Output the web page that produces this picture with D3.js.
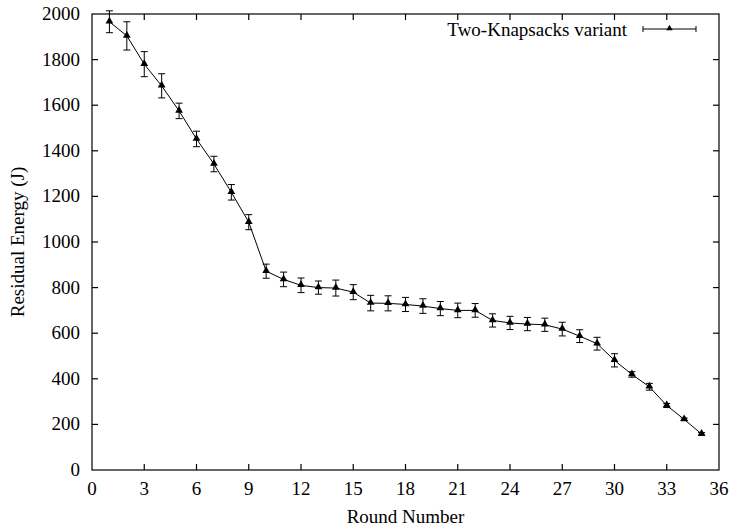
<!DOCTYPE html>
<html>
  <body>
    <script src="https://cdn.jsdelivr.net/npm/d3@7"></script>
    <style>
      body{ margin: 0; background: #fff;}
      svg text{ font-family: 'Liberation Serif', 'Times New Roman', Times, 'DejaVu Serif', serif; font-size: 19px; fill: #000;}
      .axis line, .frame{ stroke: #000; stroke-width: 1.2; fill: none;}
      .series{ fill: none; stroke: #000; stroke-width: 1;}
      .err{ stroke: #000; stroke-width: 1;}
    </style>
    <script>
var rounds = d3.range(1, 36)
var energy = [1966, 1904, 1780, 1685, 1575, 1452, 1342, 1218, 1087, 872,
  836, 810, 800, 798, 780, 732, 731, 726, 719, 708,
  700, 700, 656, 645, 640, 637, 618, 587, 554, 481,
  419, 365, 283, 222, 158]
var errors = [48, 62, 55, 53, 34, 34, 34, 34, 33, 31,
  32, 32, 29, 35, 33, 34, 33, 31, 32, 31,
  32, 30, 29, 29, 29, 29, 30, 28, 28, 29,
  12, 15, 9, 6, 6]
var xTicks = d3.range(0, 37, 3)
var yTicks = d3.range(0, 2001, 200)
var seriesName = 'Two-Knapsacks variant'

var W = 733, H = 530
var pL = 92, pR = 719, pT = 14, pB = 470
var svg = d3.select('body').append('svg').attr('width', W).attr('height', H)
  .attr('font-family', "'Liberation Serif', 'Times New Roman', serif")

var x = d3.scaleLinear().domain([0, 36]).range([pL, pR])
var y = d3.scaleLinear().domain([0, 2000]).range([pB, pT])
var tk = 6

// frame
svg.append('rect').attr('class', 'frame')
  .attr('x', pL).attr('y', pT).attr('width', pR - pL).attr('height', pB - pT)

// ticks on all four sides, gnuplot style
var ax = svg.append('g').attr('class', 'axis')
xTicks.forEach(function(t){
  if (t === 0 || t === 36) return
  ax.append('line').attr('x1', x(t)).attr('x2', x(t)).attr('y1', pB).attr('y2', pB - tk)
  ax.append('line').attr('x1', x(t)).attr('x2', x(t)).attr('y1', pT).attr('y2', pT + tk)
})
yTicks.forEach(function(t){
  if (t === 0 || t === 2000) return
  ax.append('line').attr('x1', pL).attr('x2', pL + tk).attr('y1', y(t)).attr('y2', y(t))
  ax.append('line').attr('x1', pR).attr('x2', pR - tk).attr('y1', y(t)).attr('y2', y(t))
})
svg.selectAll('.xlab').data(xTicks).enter().append('text')
  .attr('x', function(d){ return x(d) }).attr('y', 495)
  .attr('text-anchor', 'middle').text(function(d){ return d })
svg.selectAll('.ylab').data(yTicks).enter().append('text')
  .attr('x', 80).attr('y', function(d){ return y(d) + 6 })
  .attr('text-anchor', 'end').text(function(d){ return d })

svg.append('text').attr('x', (pL + pR) / 2).attr('y', 523)
  .attr('text-anchor', 'middle').text('Round Number')
svg.append('text').attr('transform', 'translate(24,' + (pT + pB) / 2 + ') rotate(-90)')
  .attr('text-anchor', 'middle').text('Residual Energy (J)')

// data
var pts = rounds.map(function(r, i){ return {r: r, v: energy[i], e: errors[i]} })
var cap = 3.5
var eb = svg.append('g').attr('class', 'err')
pts.forEach(function(d){
  var cx = x(d.r), y1 = y(d.v + d.e), y2 = y(d.v - d.e)
  eb.append('line').attr('x1', cx).attr('x2', cx).attr('y1', y1).attr('y2', y2)
  eb.append('line').attr('x1', cx - cap).attr('x2', cx + cap).attr('y1', y1).attr('y2', y1)
  eb.append('line').attr('x1', cx - cap).attr('x2', cx + cap).attr('y1', y2).attr('y2', y2)
})
svg.append('path').datum(pts).attr('class', 'series')
  .attr('d', d3.line().x(function(d){ return x(d.r) }).y(function(d){ return y(d.v) }))
var tri = d3.symbol().type(d3.symbolTriangle).size(26)
svg.selectAll('.pt').data(pts).enter().append('path')
  .attr('d', tri).attr('fill', '#000')
  .attr('transform', function(d){ return 'translate(' + x(d.r) + ',' + (y(d.v) - 0.5) + ')' })

// legend
var ly = 29
svg.append('text').attr('x', 627).attr('y', ly + 7).attr('text-anchor', 'end').text(seriesName)
var lg = svg.append('g').attr('class', 'err')
lg.append('line').attr('x1', 643).attr('x2', 696).attr('y1', ly).attr('y2', ly)
lg.append('line').attr('x1', 643).attr('x2', 643).attr('y1', ly - 3).attr('y2', ly + 3)
lg.append('line').attr('x1', 696).attr('x2', 696).attr('y1', ly - 3).attr('y2', ly + 3)
svg.append('path').attr('d', d3.symbol().type(d3.symbolTriangle).size(18)).attr('fill', '#000')
  .attr('transform', 'translate(669.5,' + (ly - 0.5) + ')')
    </script>
  </body>
</html>
